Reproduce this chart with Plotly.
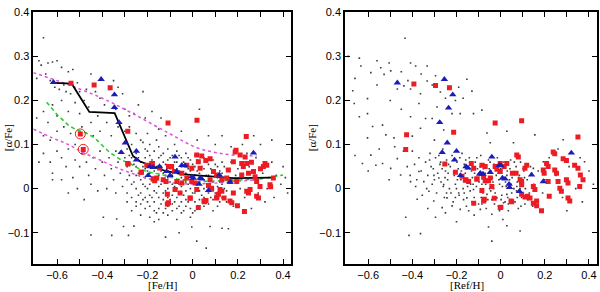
import plotly.graph_objects as go

# ---------------- data: left panel ([Fe/H]) ----------------
field_left = [
    (-0.66,0.342),(-0.68,0.29),(-0.67,0.28),(-0.64,0.285),(-0.62,0.287),(-0.60,0.29),(-0.58,0.275),(-0.55,0.265),
    (-0.53,0.27),(-0.69,0.25),(-0.65,0.26),(-0.63,0.245),(-0.61,0.23),(-0.59,0.225),(-0.57,0.235),(-0.56,0.22),
    (-0.54,0.215),(-0.51,0.24),(-0.50,0.22),(-0.47,0.225),(-0.45,0.26),(-0.43,0.22),(-0.41,0.205),(-0.48,0.20),
    (-0.52,0.195),(-0.58,0.20),(-0.62,0.19),(-0.66,0.175),(-0.69,0.16),(-0.64,0.15),(-0.60,0.165),(-0.55,0.175),
    (-0.50,0.17),(-0.46,0.185),(-0.42,0.165),(-0.39,0.19),(-0.37,0.225),(-0.35,0.245),(-0.33,0.23),(-0.31,0.215),
    (-0.34,0.18),(-0.30,0.18),(-0.28,0.165),(-0.26,0.17),(-0.22,0.22),(-0.24,0.19),(-0.66,0.12),(-0.63,0.11),
    (-0.60,0.13),(-0.57,0.14),(-0.54,0.125),(-0.52,0.10),(-0.49,0.14),(-0.45,0.15),(-0.44,0.12),(-0.41,0.13),
    (-0.38,0.15),(-0.36,0.12),(-0.33,0.14),(-0.30,0.13),(-0.28,0.14),(-0.25,0.125),(-0.21,0.16),(-0.18,0.175),
    (-0.15,0.135),(-0.12,0.12),(-0.16,0.11),(-0.20,0.125),(-0.22,0.105),(-0.14,0.16),(0.02,0.11),(0.07,0.12),
    (0.03,0.18),(0.10,0.10),(0.13,0.12),(0.17,0.095),(0.22,0.10),(0.30,0.10),(0.35,0.11),(0.27,0.12),
    (-0.08,0.10),(-0.05,0.13),
    (-0.68,0.06),(-0.66,0.08),(-0.63,0.06),(-0.60,0.085),(-0.58,0.07),(-0.56,0.05),(-0.55,0.09),(-0.52,0.065),
    (-0.50,0.05),(-0.49,0.08),(-0.47,0.06),(-0.46,0.03),(-0.44,0.07),(-0.43,0.045),(-0.41,0.085),(-0.40,0.06),
    (-0.39,0.03),(-0.37,0.07),(-0.36,0.045),(-0.35,0.02),(-0.34,0.085),(-0.33,0.06),(-0.32,0.035),(-0.31,0.005),
    (-0.30,0.07),(-0.58,0.02),(-0.62,0.02),(-0.53,0.025),(-0.51,0.0),(-0.45,0.01),(-0.42,-0.005),(-0.38,0.0),
    (-0.34,-0.01),
    (-0.29,0.09),(-0.29,0.05),(-0.29,0.02),(-0.29,-0.01),(-0.29,-0.03),
    (-0.27,0.10),(-0.27,0.07),(-0.27,0.04),(-0.27,0.01),(-0.27,-0.02),(-0.27,-0.05),
    (-0.25,0.08),(-0.25,0.05),(-0.25,0.03),(-0.25,0.0),(-0.25,-0.03),(-0.25,-0.04),
    (-0.23,0.11),(-0.23,0.06),(-0.23,0.04),(-0.23,0.02),(-0.23,-0.01),(-0.23,-0.035),(-0.23,-0.06),
    (-0.21,0.09),(-0.21,0.07),(-0.21,0.045),(-0.21,0.025),(-0.21,0.005),(-0.21,-0.02),(-0.21,-0.045),
    (-0.19,0.10),(-0.19,0.075),(-0.19,0.055),(-0.19,0.035),(-0.19,0.01),(-0.19,-0.015),(-0.19,-0.04),(-0.19,-0.065),
    (-0.17,0.085),(-0.17,0.06),(-0.17,0.04),(-0.17,0.015),(-0.17,-0.005),(-0.17,-0.03),(-0.17,-0.05),
    (-0.15,0.095),(-0.15,0.07),(-0.15,0.045),(-0.15,0.03),(-0.15,0.005),(-0.15,-0.02),(-0.15,-0.045),(-0.15,-0.07),
    (-0.13,0.08),(-0.13,0.06),(-0.13,0.035),(-0.13,0.02),(-0.13,-0.01),(-0.13,-0.025),(-0.13,-0.055),
    (-0.11,0.09),(-0.11,0.065),(-0.11,0.04),(-0.11,0.025),(-0.11,0.0),(-0.11,-0.02),(-0.11,-0.04),(-0.11,-0.06),
    (-0.09,0.075),(-0.09,0.05),(-0.09,0.03),(-0.09,0.01),(-0.09,-0.015),(-0.09,-0.035),(-0.09,-0.05),
    (-0.07,0.085),(-0.07,0.06),(-0.07,0.045),(-0.07,0.02),(-0.07,0.0),(-0.07,-0.02),(-0.07,-0.045),(-0.07,-0.07),
    (-0.05,0.07),(-0.05,0.05),(-0.05,0.025),(-0.05,0.005),(-0.05,-0.01),(-0.05,-0.03),(-0.05,-0.055),
    (-0.03,0.08),(-0.03,0.055),(-0.03,0.035),(-0.03,0.015),(-0.03,-0.005),(-0.03,-0.025),(-0.03,-0.04),
    (-0.01,0.065),(-0.01,0.04),(-0.01,0.02),(-0.01,0.0),(-0.01,-0.02),(-0.01,-0.045),(-0.01,-0.065),
    (0.01,0.075),(0.01,0.05),(0.01,0.03),(0.01,0.01),(0.01,-0.01),(0.01,-0.03),(0.01,-0.05),
    (0.03,0.06),(0.03,0.035),(0.03,0.015),(0.03,-0.005),(0.03,-0.025),(0.03,-0.045),
    (0.05,0.07),(0.05,0.045),(0.05,0.02),(0.05,0.0),(0.05,-0.02),(0.05,-0.04),
    (0.07,0.055),(0.07,0.03),(0.07,0.01),(0.07,-0.01),(0.07,-0.035),
    (0.09,0.065),(0.09,0.04),(0.09,0.015),(0.09,-0.005),(0.09,-0.025),(0.09,-0.05),
    (0.11,0.05),(0.11,0.025),(0.11,0.005),(0.11,-0.015),(0.11,-0.04),
    (0.13,0.06),(0.13,0.035),(0.13,0.01),(0.13,-0.02),
    (0.15,0.045),(0.15,0.02),(0.15,-0.005),(0.15,-0.03),
    (-0.28,0.075),(-0.28,0.03),(-0.26,0.055),(-0.26,0.015),(-0.24,0.07),(-0.24,0.035),(-0.24,-0.015),
    (-0.22,0.05),(-0.22,0.01),(-0.22,-0.025),(-0.20,0.085),(-0.20,0.04),(-0.20,0.0),(-0.20,-0.03),
    (-0.18,0.065),(-0.18,0.025),(-0.18,-0.02),(-0.16,0.05),(-0.16,0.02),(-0.16,-0.01),(-0.16,-0.055),
    (-0.14,0.075),(-0.14,0.04),(-0.14,0.01),(-0.14,-0.035),(-0.12,0.055),(-0.12,0.03),(-0.12,-0.005),(-0.12,-0.045),
    (-0.10,0.07),(-0.10,0.045),(-0.10,0.015),(-0.10,-0.025),(-0.08,0.06),(-0.08,0.035),(-0.08,0.005),(-0.08,-0.03),
    (-0.06,0.075),(-0.06,0.04),(-0.06,0.01),(-0.06,-0.04),(-0.04,0.06),(-0.04,0.02),(-0.04,-0.015),(-0.04,-0.05),
    (-0.02,0.07),(-0.02,0.045),(-0.02,0.01),(-0.02,-0.03),(0.0,0.055),(0.0,0.025),(0.0,-0.01),(0.0,-0.055),
    (0.02,0.065),(0.02,0.04),(0.02,0.0),(0.02,-0.04),(0.04,0.05),(0.04,0.025),(0.04,-0.015),(0.06,0.06),
    (0.06,0.03),(0.06,-0.025),(0.08,0.045),(0.08,0.02),(0.08,-0.02),(0.10,0.055),(0.10,0.03),(0.10,-0.01),
    (0.12,0.04),(0.12,0.015),(0.12,-0.03),(0.14,0.05),(0.14,0.0),
    (0.17,0.06),(0.19,0.03),(0.21,0.0),(0.23,-0.02),(0.25,0.05),(0.27,0.02),(0.29,-0.01),(0.31,0.035),
    (0.33,0.0),(0.35,0.06),(0.37,0.03),(0.39,0.01),(0.41,0.025),(0.42,-0.01),(0.18,-0.04),(0.24,0.08),
    (0.28,0.07),(0.32,-0.03),(0.20,0.045),(0.26,-0.045),(0.36,-0.02),(0.40,0.05),
    (-0.358,-0.106),(-0.284,-0.106),(-0.395,-0.065),(-0.306,-0.086),(-0.004,-0.087),(0.018,-0.119),
    (0.077,-0.086),(0.158,-0.091),(-0.336,-0.069),(-0.48,-0.025),(-0.55,-0.01),(-0.62,0.035),
    (-0.06,-0.10),(0.13,-0.09),(-0.17,-0.075),(-0.45,-0.105),(-0.26,-0.085),(-0.12,-0.11),(0.06,-0.135),
]

red_left_x = [-0.538,-0.436,-0.365,-0.109,0.019,0.237,-0.287,
              -0.287,-0.228,-0.181,-0.171,-0.130,-0.118,-0.107,-0.093,-0.081,-0.070,-0.048,-0.026,-0.004,
              0.018,0.040,0.058,0.077,0.025,0.033,-0.004,0.011,0.018,-0.011,0.025,0.050,0.059,0.092,0.106,
              0.121,0.129,0.114,0.106,0.139,0.165,0.173,0.180,0.188,0.192,0.210,0.217,0.224,0.232,0.239,
              0.239,0.247,0.254,0.229,0.198,0.180,0.269,0.276,0.283,0.298,0.283,0.291,0.313,0.320,0.328,
              0.342,0.357,0.158,0.151,0.165,0.195,0.217,0.247,0.129,0.077,0.084,0.070,-0.026,-0.048,-0.078,
              -0.107,-0.112,-0.056,-0.159,-0.203,-0.286,-0.227,-0.178,-0.146,-0.175,-0.168,0.345,0.300,0.260,
              -0.112,-0.011,0.052,0.107]
red_left_y = [0.239,0.235,0.229,0.149,0.155,0.118,0.130,
              0.057,0.037,0.057,0.022,0.020,0.016,0.050,0.050,0.039,0.016,0.035,0.053,0.046,
              0.076,0.074,0.064,0.068,0.061,0.046,0.016,0.013,-0.002,-0.021,-0.043,-0.028,-0.027,0.039,0.031,
              -0.002,-0.006,-0.013,-0.021,-0.021,-0.028,-0.032,0.061,0.083,0.087,0.076,0.057,0.050,0.072,0.057,
              -0.006,-0.010,-0.002,-0.052,-0.039,-0.010,0.039,0.027,0.016,0.005,-0.017,-0.021,0.050,0.057,0.053,
              0.009,0.024,0.042,0.024,0.016,0.016,0.031,0.035,0.020,0.020,0.001,0.007,0.024,0.013,-0.002,
              -0.032,-0.013,-0.010,0.024,0.053,0.056,0.037,0.057,0.047,0.022,0.018,0.004,0.045,0.060,
              -0.035,-0.022,-0.030,-0.019]

circled_x = [-0.497, -0.484]
circled_y = [0.124, 0.089]

blue_left_x = [-0.616,-0.405,-0.346,-0.346,-0.326,-0.298,-0.316,-0.249,-0.249,-0.190,-0.175,-0.197,
               -0.147,-0.115,-0.078,-0.070,-0.048,-0.034,-0.004,0.003,0.033,0.040,0.028,0.070,0.118,
               0.269,0.166,-0.100]
blue_left_y = [0.241,0.248,0.213,0.184,0.150,0.104,0.082,0.085,0.065,0.050,0.048,0.030,
               0.050,0.039,0.072,0.039,0.053,0.052,0.027,0.024,0.024,0.022,0.010,-0.004,0.031,
               0.081,0.015,0.030]

mean_line_x = [-0.616,-0.535,-0.457,-0.345,-0.264,-0.234,-0.175,-0.120,-0.050,0.033,0.180,0.350]
mean_line_y = [0.240,0.238,0.174,0.171,0.074,0.062,0.050,0.040,0.033,0.030,0.024,0.025]

green_x = [-0.646,-0.600,-0.550,-0.515,-0.470,-0.433,-0.404,-0.367,-0.316,-0.278,-0.234,-0.190,-0.146,-0.070,0.003,0.151,0.298,0.400]
green_y = [0.196,0.168,0.144,0.133,0.126,0.115,0.100,0.082,0.065,0.057,0.044,0.037,0.033,0.022,0.015,0.019,0.022,0.031]

mag_up_x = [-0.705,-0.557,-0.400,-0.264,-0.107,0.018,0.100,0.180,0.283]
mag_up_y = [0.263,0.237,0.205,0.170,0.126,0.093,0.082,0.076,0.074]

mag_lo_x = [-0.705,-0.620,-0.550,-0.485,-0.410,-0.338,-0.260,-0.190,-0.100,-0.040,0.080,0.200,0.275]
mag_lo_y = [0.135,0.115,0.100,0.082,0.065,0.048,0.033,0.022,0.014,0.011,0.012,0.017,0.020]

# ---------------- data: right panel ([Ref/H]) ----------------
field_right = [
    (-0.433,0.341),(-0.64,0.296),(-0.633,0.278),(-0.543,0.274),(-0.505,0.285),(-0.498,0.267),(-0.528,0.259),
    (-0.588,0.263),(-0.408,0.285),(-0.385,0.278),(-0.333,0.278),(-0.295,0.256),(-0.408,0.226),(-0.438,0.233),
    (-0.363,0.215),(-0.468,0.226),(-0.333,0.244),(-0.273,0.219),(-0.19,0.23),(-0.153,0.248),(-0.13,0.221),
    (-0.205,0.20),(-0.288,0.185),(-0.37,0.193),(-0.408,0.163),(-0.34,0.159),(-0.31,0.159),(-0.258,0.133),
    (-0.183,0.17),(-0.123,0.17),(-0.085,0.178),(-0.062,0.126),(0.028,0.13),(-0.047,0.104),(0.058,0.104),
    (0.155,0.122),(0.283,0.111),(-0.67,0.222),(-0.603,0.204),(-0.663,0.193),(-0.603,0.17),(-0.64,0.163),
    (-0.535,0.144),(-0.58,0.141),(-0.603,0.115),(-0.52,0.122),(-0.483,0.115),(-0.40,0.119),(-0.363,0.137),
    (-0.69,0.30),(-0.56,0.29),(-0.45,0.265),(-0.42,0.245),(-0.36,0.26),(-0.31,0.235),(-0.25,0.205),
    (-0.22,0.17),(-0.17,0.205),(-0.30,0.11),(-0.45,0.18),(-0.50,0.20),(-0.56,0.235),(-0.66,0.25),
    (-0.626,0.057),(-0.588,0.076),(-0.565,0.053),(-0.535,0.057),(-0.498,0.046),(-0.505,0.02),(-0.468,0.068),
    (-0.453,0.031),(-0.423,0.05),(-0.408,0.016),(-0.385,0.005),(-0.37,0.039),(-0.348,0.016),(-0.325,-0.006),
    (-0.378,-0.024),(-0.303,-0.028),(-0.28,0.024),(-0.258,0.009),(-0.265,-0.043),(-0.243,-0.021),(-0.22,-0.039),
    (-0.19,-0.01),(-0.183,-0.047),(-0.153,-0.021),(-0.145,-0.05),(-0.123,-0.002),(-0.092,-0.047),(-0.062,-0.013),
    (-0.04,-0.058),(-0.017,-0.021),(0.013,-0.032),(0.028,-0.013),(0.073,0.005),(0.148,0.046),(0.193,0.061),
    (0.358,0.001),(0.38,0.061),(-0.55,0.09),(-0.48,0.095),(-0.44,0.085),(-0.60,0.04),(-0.66,0.075),
    (-0.34,0.06),(-0.33,0.03),(-0.32,0.08),(-0.31,0.01),(-0.305,0.045),(-0.295,0.07),(-0.29,-0.01),(-0.285,0.035),
    (-0.275,0.055),(-0.27,0.015),(-0.262,0.09),(-0.255,-0.02),(-0.25,0.04),(-0.245,0.065),(-0.24,0.02),(-0.232,0.0),
    (-0.228,0.05),(-0.22,0.075),(-0.215,-0.03),(-0.21,0.03),(-0.205,0.01),(-0.198,0.06),(-0.192,0.045),(-0.188,-0.015),
    (-0.18,0.02),(-0.175,0.08),(-0.17,0.0),(-0.165,0.055),(-0.16,0.035),(-0.155,-0.04),(-0.148,0.015),(-0.142,0.07),
    (-0.138,-0.005),(-0.132,0.04),(-0.128,0.025),(-0.12,-0.02),(-0.115,0.06),(-0.11,0.005),(-0.105,0.045),(-0.10,-0.035),
    (-0.095,0.03),(-0.09,0.075),(-0.085,0.01),(-0.08,-0.01),(-0.075,0.055),(-0.07,0.035),(-0.065,-0.045),(-0.06,0.02),
    (-0.055,0.065),(-0.05,0.0),(-0.045,0.04),(-0.04,-0.025),(-0.035,0.015),(-0.03,0.055),(-0.025,-0.01),(-0.02,0.03),
    (-0.015,0.07),(-0.01,-0.04),(-0.005,0.01),(0.0,0.045),(0.005,-0.015),(0.01,0.025),(0.015,0.06),(0.02,-0.03),
    (0.025,0.005),(0.03,0.04),(0.035,-0.05),(0.04,0.02),(0.045,0.065),(0.05,-0.01),(0.055,0.035),(0.06,0.0),
    (0.065,-0.03),(0.07,0.05),(0.075,0.015),(0.08,-0.045),(0.085,0.03),(0.09,0.06),(0.095,-0.02),(0.10,0.01),
    (0.105,0.04),(0.11,-0.035),(0.12,0.02),(0.125,0.055),(0.13,-0.01),(0.14,0.035),(0.145,-0.04),(0.15,0.01),
    (-0.335,0.0),(-0.315,0.05),(-0.30,0.02),(-0.28,0.075),(-0.265,0.045),(-0.26,0.005),(-0.238,0.035),(-0.225,-0.01),
    (-0.20,0.0),(-0.185,0.07),(-0.178,0.04),(-0.168,-0.025),(-0.158,0.065),(-0.15,0.005),(-0.14,0.045),(-0.13,-0.03),
    (-0.118,0.035),(-0.108,0.07),(-0.098,0.015),(-0.088,-0.02),(-0.078,0.045),(-0.068,0.01),(-0.058,-0.025),(-0.048,0.06),
    (-0.038,0.025),(-0.028,-0.035),(-0.018,0.045),(-0.008,0.02),(0.002,-0.025),(0.012,0.05),(0.022,0.015),(0.032,-0.02),
    (0.042,0.045),(0.052,0.025),(0.062,0.06),(0.072,-0.005),(0.082,0.025),(0.092,-0.04),(0.102,0.045),(0.112,0.0),
    (0.122,-0.025),(0.135,0.05),(-0.36,0.04),(-0.37,0.07),(-0.38,0.02),(-0.39,0.055),(-0.40,0.085),(-0.41,0.03),
    (-0.355,-0.015),
    (-0.322,0.065),(-0.302,0.03),(-0.272,0.06),(-0.252,0.025),(-0.236,0.055),(-0.212,0.04),(-0.196,0.02),(-0.172,0.03),
    (-0.152,0.045),(-0.136,0.01),(-0.112,0.025),(-0.092,0.05),(-0.072,0.025),(-0.052,0.045),(-0.032,0.0),(-0.012,0.035),
    (0.008,0.005),(0.028,0.03),(0.048,0.01),(0.068,0.035),(0.088,0.0),(0.108,0.025),(-0.245,-0.01),(-0.205,-0.02),
    (-0.165,-0.01),(-0.125,0.01),(-0.085,-0.035),(-0.045,-0.005),(-0.005,-0.05),(0.035,-0.035),(0.075,-0.02),
    (0.17,0.04),(0.19,-0.01),(0.22,0.07),(0.25,0.03),(0.28,-0.02),(0.31,0.05),(0.34,0.0),(0.37,-0.03),
    (0.40,0.04),(0.42,0.01),(0.20,0.02),(0.26,0.09),(0.30,-0.05),(0.36,0.07),
    (-0.43,-0.065),(-0.415,-0.106),(-0.363,-0.102),(-0.295,-0.065),(-0.055,-0.087),(0.028,-0.084),(0.088,-0.096),
    (-0.04,-0.119),(-0.20,-0.075),(-0.12,-0.06),(0.01,-0.07),(-0.33,-0.045),(-0.25,-0.055),
]

red_right_x = [-0.393,-0.295,-0.232,-0.426,-0.213,-0.025,0.095,0.350,-0.430,
               -0.253,-0.205,-0.133,-0.122,-0.175,-0.160,-0.122,
               -0.108,-0.157,-0.145,-0.085,-0.070,-0.055,-0.047,-0.040,-0.025,-0.017,-0.002,-0.002,0.016,0.028,
               -0.002,-0.077,-0.085,0.047,0.053,0.070,0.073,0.080,0.088,0.095,0.118,0.110,0.095,0.095,0.122,
               0.133,0.148,0.155,0.163,0.163,0.185,0.193,0.197,0.208,0.215,0.238,0.245,0.245,0.253,0.260,
               0.268,0.275,0.283,0.298,0.215,0.220,0.298,0.305,0.335,0.350,0.361,0.373,0.305,0.313,0.358,
               -0.077,-0.070,-0.107,-0.074,0.001,-0.029,0.050,0.110,0.148]
red_right_y = [0.237,0.234,0.229,0.122,0.128,0.149,0.154,0.117,0.089,
               0.056,0.037,0.057,0.046,0.028,0.019,-0.033,
               0.022,0.020,0.016,0.053,0.050,0.018,0.024,0.005,0.050,0.044,0.057,0.039,0.050,0.057,
               -0.043,-0.028,-0.004,-0.028,0.035,0.035,0.076,0.072,0.020,0.016,0.053,0.046,0.009,-0.013,-0.017,
               -0.021,0.005,-0.002,-0.028,-0.039,-0.050,0.042,0.035,0.057,0.050,0.083,0.079,0.042,0.035,0.016,
               0.001,-0.006,0.068,0.064,0.016,-0.017,0.020,0.013,0.053,0.046,0.031,0.020,-0.021,-0.028,0.005,
               0.026,0.018,0.022,-0.024,-0.042,-0.022,-0.030,-0.019,-0.033]

blue_right_x = [-0.468,-0.255,-0.217,-0.236,-0.276,-0.242,-0.265,-0.200,-0.209,-0.157,-0.148,-0.182,
                -0.092,-0.080,-0.040,-0.047,-0.007,0.001,0.008,0.020,0.040,0.085,0.140,0.320,0.193,0.038,-0.095]
blue_right_y = [0.240,0.248,0.213,0.183,0.150,0.104,0.082,0.085,0.065,0.050,0.047,0.030,
                0.035,0.033,0.072,0.037,0.053,0.052,0.024,0.022,0.003,-0.006,0.031,0.081,0.016,0.010,0.033]

x_ticks = [-0.6,-0.5,-0.4,-0.3,-0.2,-0.1,0.0,0.1,0.2,0.3,0.4]
x_ticklabels = ["\u22120.6","","\u22120.4","","\u22120.2","","0","","0.2","","0.4"]
y_ticks = [-0.1,0.0,0.1,0.2,0.3,0.4]
y_ticklabels = ["\u22120.1","0","0.1","0.2","0.3","0.4"]

# ---------------- figure ----------------
RED = "#ec1c24"
BLUE = "#1c1cb8"
fig = go.Figure()

def add_panel(xa, ya, field, rx, ry, bx, by, lines):
    fig.add_trace(go.Scatter(x=[p[0] for p in field], y=[p[1] for p in field], mode="markers",
                             marker=dict(symbol="square", size=1.6, color="#3a3a3a", line=dict(width=0)),
                             xaxis=xa, yaxis=ya, hoverinfo="skip"))
    if lines:
        fig.add_trace(go.Scatter(x=mag_up_x, y=mag_up_y, mode="lines", line=dict(color="#e050e0", width=1.5, dash="dot"),
                                 line_shape="spline", xaxis=xa, yaxis=ya))
        fig.add_trace(go.Scatter(x=mag_lo_x, y=mag_lo_y, mode="lines", line=dict(color="#e050e0", width=1.5, dash="dot"),
                                 line_shape="spline", xaxis=xa, yaxis=ya))
        fig.add_trace(go.Scatter(x=green_x, y=green_y, mode="lines", line=dict(color="#22cc22", width=1.5, dash="4px,3px"),
                                 xaxis=xa, yaxis=ya))
        fig.add_trace(go.Scatter(x=mean_line_x, y=mean_line_y, mode="lines", line=dict(color="black", width=1.8),
                                 xaxis=xa, yaxis=ya))
    fig.add_trace(go.Scatter(x=rx, y=ry, mode="markers",
                             marker=dict(symbol="square", size=5, color=RED, line=dict(width=0)),
                             xaxis=xa, yaxis=ya))
    if lines:
        fig.add_trace(go.Scatter(x=circled_x, y=circled_y, mode="markers",
                                 marker=dict(symbol="square", size=5, color=RED, line=dict(width=0)),
                                 xaxis=xa, yaxis=ya))
        fig.add_trace(go.Scatter(x=circled_x, y=circled_y, mode="markers",
                                 marker=dict(symbol="circle-open", size=10, color=RED, line=dict(width=1)),
                                 xaxis=xa, yaxis=ya))
    fig.add_trace(go.Scatter(x=bx, y=by, mode="markers",
                             marker=dict(symbol="triangle-up", size=6.5, color=BLUE, line=dict(width=0)),
                             xaxis=xa, yaxis=ya))

add_panel("x", "y", field_left, red_left_x, red_left_y, blue_left_x, blue_left_y, True)
add_panel("x2", "y2", field_right, red_right_x, red_right_y, blue_right_x, blue_right_y, False)

tickfont = dict(family="Liberation Sans, Arial, sans-serif", size=11, color="black")
xcommon = dict(range=[-0.705, 0.435], tickmode="array", tickvals=x_ticks, ticktext=x_ticklabels,
               ticks="inside", ticklen=5, tickwidth=1, tickcolor="black", mirror="ticks", showline=True,
               linecolor="black", linewidth=1.5, showgrid=False, zeroline=False, tickfont=tickfont)
ycommon = dict(range=[-0.17, 0.4005], tickmode="array", tickvals=y_ticks, ticktext=y_ticklabels,
               ticks="inside", ticklen=5, tickwidth=1, tickcolor="black", mirror="ticks", showline=True,
               linecolor="black", linewidth=1.5, showgrid=False, zeroline=False, tickfont=tickfont)

fig.update_layout(
    width=600, height=292, margin=dict(l=0, r=0, t=0, b=0),
    paper_bgcolor="white", plot_bgcolor="white", showlegend=False,
    xaxis=dict(domain=[0.0555, 0.485], anchor="y", **xcommon),
    yaxis=dict(domain=[0.0993, 0.979], anchor="x", **ycommon),
    xaxis2=dict(domain=[0.575, 0.9945], anchor="y2", **xcommon),
    yaxis2=dict(domain=[0.0993, 0.979], anchor="x2", **ycommon),
)

titlefont = dict(family="Liberation Serif, Times New Roman, serif", size=11, color="black")
fig.add_annotation(text="[Fe/H]", x=0.27, y=0.0, xref="paper", yref="paper",
                   showarrow=False, font=titlefont, xanchor="center", yanchor="bottom",
                   borderpad=0, height=13)
fig.add_annotation(text="[Ref/H]", x=0.778, y=0.0, xref="paper", yref="paper",
                   showarrow=False, font=titlefont, xanchor="center", yanchor="bottom",
                   borderpad=0, height=13)
fig.add_annotation(text="[\u03b1/Fe]", x=8 / 600, y=1 - 135 / 292, xref="paper", yref="paper",
                   showarrow=False, font=titlefont, textangle=-90, xanchor="center", yanchor="middle")
fig.add_annotation(text="[\u03b1/Fe]", x=312 / 600, y=1 - 135 / 292, xref="paper", yref="paper",
                   showarrow=False, font=titlefont, textangle=-90, xanchor="center", yanchor="middle")

fig.write_html("out.html", config={"displayModeBar": False},
               post_script="document.body.style.margin='0';document.body.style.overflow='hidden';")
